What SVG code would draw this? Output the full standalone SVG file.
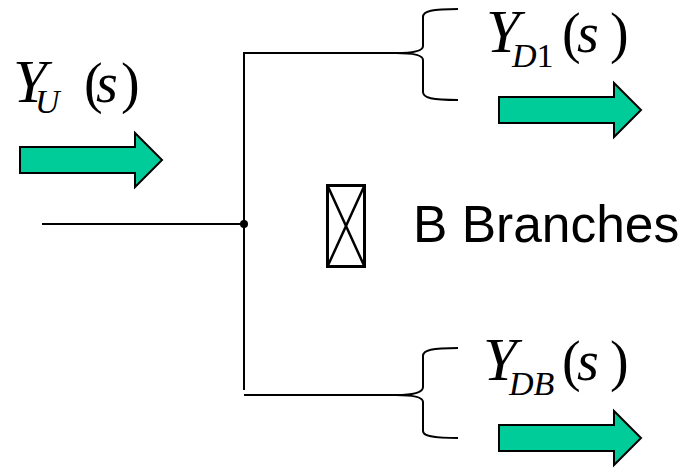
<svg xmlns="http://www.w3.org/2000/svg" width="687" height="469" viewBox="0 0 687 469">
<style>
.arrow{fill:#00CC99;stroke:#000;stroke-width:2;stroke-linejoin:miter}
.ln{fill:none;stroke:#000;stroke-width:2}
.m{font-family:"Liberation Serif","Times New Roman",serif;font-size:56px;fill:#000}
.Y{font-size:61px;font-style:italic}
.sub{font-size:34px;font-style:italic}
.it{font-style:italic}
.up{font-style:normal}
.lbl{font-family:"Liberation Sans",Arial,sans-serif;font-size:51.5px;fill:#000}
</style>
<defs>
<path id="arr" d="M0,14 H115 V0 L142,27 L115,54 V40 H0 Z"/>
</defs>
<rect width="687" height="469" fill="#fff"/>
<g id="connectors">
<path class="ln" d="M42,224 H244"/>
<path class="ln" d="M244,390 V53 H400"/>
<path class="ln" d="M244,395 H400"/>
<circle cx="244" cy="224" r="4" fill="#000"/>
</g>
<g id="brace-top">
<path class="ln" d="M458,9 C432,9 423,11 423,17 L423,46 Q423,53 396,53 Q423,53 423,60 L423,92 C423,98 432,100 458,100"/>
</g>
<g id="brace-bottom">
<path class="ln" d="M458,348 C432,348 423,350 423,356 L423,387 Q423,395 396,395 Q423,395 423,402 L423,431 C423,436 432,438 458,438"/>
</g>
<g id="input">
<text class="m"><tspan class="Y" x="13" y="102">Y</tspan><tspan class="sub" x="35" y="113" font-size="37">U</tspan><tspan x="84" y="102">(</tspan><tspan class="it" x="96" y="102">s</tspan><tspan x="121" y="102">)</tspan></text>
<use href="#arr" x="20" y="133" class="arrow"/>
</g>
<g id="output1">
<text class="m"><tspan class="Y" x="486" y="52">Y</tspan><tspan class="sub" x="512" y="67">D</tspan><tspan class="sub up" y="67">1</tspan><tspan x="562" y="52">(</tspan><tspan class="it" x="577" y="52">s</tspan><tspan x="610" y="52">)</tspan></text>
<use href="#arr" x="499" y="83" class="arrow"/>
</g>
<g id="outputB">
<text class="m"><tspan class="Y" x="483" y="380">Y</tspan><tspan class="sub" x="509" y="395">DB</tspan><tspan x="562" y="380">(</tspan><tspan class="it" x="577" y="380">s</tspan><tspan x="610" y="380">)</tspan></text>
<use href="#arr" x="499" y="411" class="arrow"/>
</g>
<g id="branches">
<rect x="327.5" y="185.5" width="37" height="81" fill="none" stroke="#000" stroke-width="3"/>
<path d="M327.5,185.5 L364.5,266.5 M364.5,185.5 L327.5,266.5" stroke="#000" stroke-width="2.5" fill="none"/>
<text class="lbl" x="413" y="242">B Branches</text>
</g>
</svg>
